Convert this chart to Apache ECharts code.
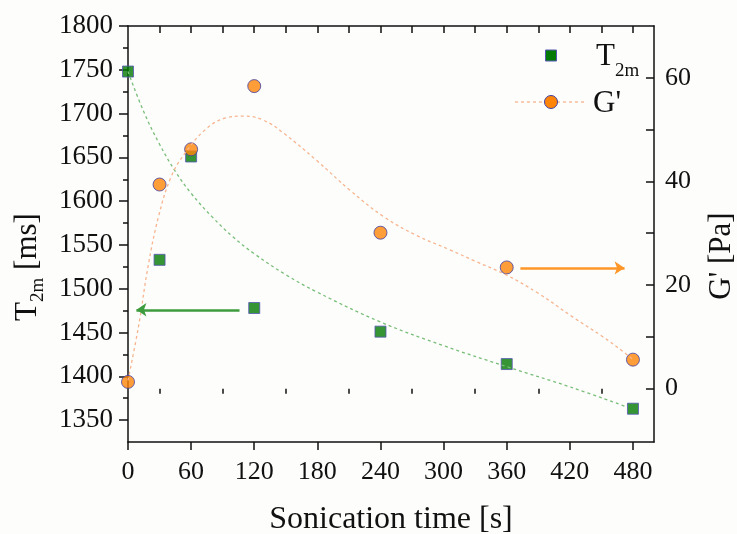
<!DOCTYPE html>
<html lang="en">
<head>
    <meta charset="UTF-8">
    <title>T2m and G' vs sonication time</title>
    <script src="https://cdn.jsdelivr.net/npm/echarts@6/dist/echarts.min.js"></script>
    <style>
        *{
            margin: 0;
            padding: 0;
        }
        #box{
            width: 737px;
            height: 534px;
            background: #fdfdfc;
        }
    </style>
</head>
<body>
<div id="box"></div>
<script type="text/javascript">
    // measured points
    const times = [0, 30, 60, 120, 240, 360, 480];
    const t2m = [1748, 1533, 1651, 1478, 1451, 1414, 1363];
    const gPrime = [1.3, 39.4, 46.2, 58.4, 30.1, 23.4, 5.6];

    // fit curves
    const t2mFitTime = [0, 15, 30, 45, 60, 80, 100, 120, 150, 180, 240, 300, 360, 420, 472];
    const t2mFit = [1748, 1702, 1665, 1634, 1609, 1582, 1559, 1540, 1516, 1496, 1462, 1435, 1411, 1388, 1366];
    const gFitTime = [0, 10, 19, 29, 41, 54, 73, 92, 111, 129, 148, 179, 211, 243, 274, 306, 330, 360, 390, 423, 450, 471, 480];
    const gFit = [1.6, 12, 23.5, 33.2, 40.9, 45.4, 49.9, 52.2, 52.6, 51.8, 49.3, 44.1, 38.3, 33.2, 29.6, 26.8, 24.6, 21.9, 18.4, 13.8, 10.2, 7.1, 5.6];

    // arrows (pointing to the axis each series belongs to)
    const greenArrow = [[106, 1476], [8, 1476]];
    const orangeArrow = [[373, 23.3], [472, 23.3]];

    // ticks
    const xMajor = [0, 60, 120, 180, 240, 300, 360, 420, 480];
    const xMinor = [30, 90, 150, 210, 270, 330, 390, 450];
    const xTop = [30, 60, 90, 120, 150, 180, 210, 240, 270, 300, 330, 360, 390, 420, 450, 480];
    const leftMajor = [1350, 1400, 1450, 1500, 1550, 1600, 1650, 1700, 1750, 1800];
    const leftMinor = [1375, 1425, 1475, 1525, 1575, 1625, 1675, 1725, 1775];
    const rightTicks = [0, 10, 20, 30, 40, 50, 60];
    const rightLabels = [0, 20, 40, 60];

    const font = 'Liberation Serif';
    const ink = '#111';
    const zip = (a, b) => a.map((v, i) => [v, b[i]]);
    const plain = v => String(v);

    let chart = echarts.init(document.getElementById('box'));

    let option = {
        backgroundColor: '#fdfdfc',
        animation: false,
        grid: {left: 128, right: 83, top: 26, bottom: 92, outerBoundsMode: 'none', containLabel: false},
        xAxis: [
            {
                type: 'value', position: 'bottom', min: 0, max: 500,
                axisLine: {onZero: false, lineStyle: {color: ink, width: 1.5}},
                axisTick: {customValues: xMajor, length: 8, lineStyle: {color: ink, width: 1.5}},
                axisLabel: {customValues: xMajor, formatter: plain, color: ink, fontFamily: font, fontSize: 26, margin: 17},
                splitLine: {show: false},
                name: 'Sonication time [s]', nameLocation: 'middle', nameGap: 62,
                nameTextStyle: {color: ink, fontFamily: font, fontSize: 32}
            },
            {
                type: 'value', position: 'bottom', min: 0, max: 500,
                axisLine: {show: false},
                axisTick: {customValues: xMinor, length: 5, lineStyle: {color: ink, width: 1.5}},
                axisLabel: {show: false},
                splitLine: {show: false}
            },
            {
                type: 'value', position: 'top', min: 0, max: 500,
                axisLine: {onZero: false, lineStyle: {color: ink, width: 1.5}},
                axisTick: {customValues: xTop, inside: true, length: 7, lineStyle: {color: ink, width: 1.5}},
                axisLabel: {show: false},
                splitLine: {show: false}
            }
        ],
        yAxis: [
            {
                type: 'value', position: 'left', min: 1325, max: 1800,
                axisLine: {show: true, onZero: false, lineStyle: {color: ink, width: 1.5}},
                axisTick: {customValues: leftMajor, length: 9, lineStyle: {color: ink, width: 1.5}},
                axisLabel: {customValues: leftMajor, formatter: plain, color: ink, fontFamily: font, fontSize: 27, margin: 15},
                splitLine: {show: false},
                name: '{t|T}{s|2m}{t| [ms]}', nameLocation: 'middle', nameGap: 80,
                nameTextStyle: {
                    color: ink, fontFamily: font, padding: [0, 66, 0, 0],
                    rich: {
                        t: {fontFamily: font, fontSize: 31, lineHeight: 40, color: ink},
                        s: {fontFamily: font, fontSize: 19, lineHeight: 19, verticalAlign: 'bottom', color: ink}
                    }
                }
            },
            {
                type: 'value', position: 'right', min: -10.3, max: 70,
                axisLine: {show: true, onZero: false, lineStyle: {color: ink, width: 1.5}},
                axisTick: {customValues: rightTicks, inside: true, length: 8, lineStyle: {color: ink, width: 1.5}},
                axisLabel: {customValues: rightLabels, formatter: plain, color: ink, fontFamily: font, fontSize: 26, margin: 11},
                splitLine: {show: false},
                name: "G' [Pa]", nameLocation: 'middle', nameGap: 52,
                nameTextStyle: {color: ink, fontFamily: font, fontSize: 31, padding: [0, 44, 0, 0]}
            },
            {
                type: 'value', position: 'left', min: 1325, max: 1800,
                axisLine: {show: false},
                axisTick: {customValues: leftMinor, length: 5, lineStyle: {color: ink, width: 1.5}},
                axisLabel: {show: false},
                splitLine: {show: false}
            }
        ],
        series: [
            {
                name: 'T2m fit', type: 'line', yAxisIndex: 0, smooth: 0.4,
                showSymbol: false, silent: true,
                data: zip(t2mFitTime, t2mFit),
                lineStyle: {color: '#78be78', width: 1.3, type: [3, 3]},
                markLine: {
                    silent: true, symbol: ['none', 'arrow'], symbolSize: [10, 10],
                    label: {show: false},
                    lineStyle: {color: '#3d9c3d', width: 2.5, type: 'solid'},
                    data: [[{coord: greenArrow[0]}, {coord: greenArrow[1]}]]
                }
            },
            {
                name: 'G fit', type: 'line', yAxisIndex: 1, smooth: 0.4,
                showSymbol: false, silent: true,
                data: zip(gFitTime, gFit),
                lineStyle: {color: '#f7b48e', width: 1.3, type: [3, 3]},
                markLine: {
                    silent: true, symbol: ['none', 'arrow'], symbolSize: [10, 10],
                    label: {show: false},
                    lineStyle: {color: '#ff9628', width: 2.5, type: 'solid'},
                    data: [[{coord: orangeArrow[0]}, {coord: orangeArrow[1]}]]
                }
            },
            {
                name: 'T2m', type: 'scatter', yAxisIndex: 0,
                symbol: 'rect', symbolSize: 11,
                data: zip(times, t2m),
                itemStyle: {color: '#037a03', borderColor: '#5656b4', borderWidth: 1}
            },
            {
                name: "G'", type: 'scatter', yAxisIndex: 1,
                symbol: 'circle', symbolSize: 13,
                data: zip(times, gPrime),
                itemStyle: {color: '#ff8407', borderColor: '#4040a4', borderWidth: 1}
            }
        ],
        // legend box, top right
        graphic: [
            {type: 'rect', shape: {x: 545.5, y: 50, width: 11, height: 11},
                style: {fill: '#037a03', stroke: '#5656b4', lineWidth: 1}},
            {type: 'text', left: 596, top: 41,
                style: {text: 'T', fill: ink, font: '31px "Liberation Serif"'}},
            {type: 'text', left: 615, top: 62,
                style: {text: '2m', fill: ink, font: '19px "Liberation Serif"'}},
            {type: 'line', shape: {x1: 515, y1: 102, x2: 586, y2: 102},
                style: {stroke: '#f7b48e', lineWidth: 1.3, lineDash: [3, 3]}},
            {type: 'circle', shape: {cx: 551, cy: 102, r: 6.5},
                style: {fill: '#ff8407', stroke: '#4040a4', lineWidth: 1}},
            {type: 'text', left: 593, top: 88,
                style: {text: "G'", fill: ink, font: '31px "Liberation Serif"'}}
        ]
    };

    chart.setOption(option);
</script>
</body>
</html>
